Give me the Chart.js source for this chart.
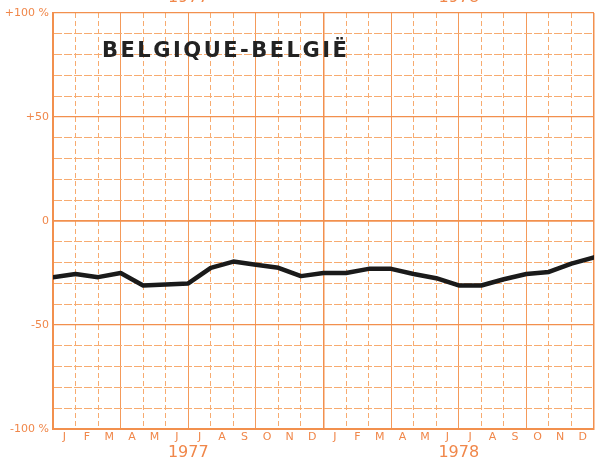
<!DOCTYPE html>
<html>
<head>
<meta charset="utf-8">
<script src="https://cdn.jsdelivr.net/npm/chart.js@4/dist/chart.umd.min.js"></script>
<style>
  html, body { margin: 0; padding: 0; background: #fff; }
  #wrap { position: relative; width: 596px; height: 470px; }
</style>
</head>
<body>
<div id="wrap"><canvas id="chart" width="596" height="470"></canvas></div>
<script>
// Month letters (one year) and the two years shown
const monthLetters = ['J', 'F', 'M', 'A', 'M', 'J', 'J', 'A', 'S', 'O', 'N', 'D'];
const years = ['1977', '1978'];

// Values read at each month boundary, Jan 1977 .. Jan 1979 (25 points, %)
const values = [-27, -25.5, -27, -25, -31, -30.5, -30, -22.5, -19.5, -21, -22.5, -26.5,
                -25, -25, -23, -23, -25.5, -27.5, -31, -31, -28, -25.5, -24.5, -20.5, -17.5];

// Y tick labels
const yTickValues = [100, 50, 0, -50, -100];
const yTickLabels = ['+100 %', '+50', '0', '-50', '-100 %'];

const panelTitle = 'BELGIQUE-BELGIË';

const orange = '#f0874a';
const gridMajor = '#f2904e';
const gridMid = '#f49a5a';
const gridMinor = '#f7ab70';

const monthAxisLabels = years.flatMap(() => monthLetters);

const titlePlugin = {
    id: 'panelTitle',
    afterDraw(chart) {
        const ctx = chart.ctx;
        ctx.save();
        ctx.font = 'bold 21px "DejaVu Sans"';
        ctx.letterSpacing = '2.5px';
        ctx.fillStyle = '#222';
        ctx.textBaseline = 'alphabetic';
        ctx.fillText(panelTitle, 102, 57);
        ctx.restore();
    }
};

new Chart(document.getElementById('chart'), {
    type: 'line',
    data: {
        datasets: [{
            data: values.map((v, i) => ({ x: i, y: v })),
            borderColor: '#1a1a1a',
            borderWidth: 4.5,
            pointRadius: 0,
            tension: 0,
            borderJoinStyle: 'round',
            borderCapStyle: 'round',
            xAxisID: 'x',
            yAxisID: 'y'
        }]
    },
    options: {
        responsive: false,
        animation: false,
        maintainAspectRatio: false,
        layout: { padding: { left: 0, right: 2, top: 0, bottom: 0 } },
        plugins: { legend: { display: false }, tooltip: { enabled: false } },
        scales: {
            x: {
                type: 'linear',
                position: 'bottom',
                min: 0,
                max: 24,
                ticks: { stepSize: 1, display: false },
                grid: {
                    drawTicks: false,
                    color: ctx => {
                        const v = ctx.tick.value;
                        if (v % 12 === 0) return gridMajor;
                        if (v % 3 === 0) return gridMid;
                        return gridMinor;
                    },
                    lineWidth: ctx => (ctx.tick.value % 12 === 0 ? 1.5 : 1)
                },
                border: {
                    color: gridMajor,
                    width: 2,
                    dash: ctx => (ctx.tick && ctx.tick.value % 3 !== 0 ? [5, 3] : [])
                },
                afterFit: s => { s.height = 0; }
            },
            months: {
                type: 'category',
                position: 'bottom',
                labels: monthAxisLabels,
                offset: true,
                grid: { display: false, drawTicks: false },
                border: { display: false },
                ticks: {
                    color: orange,
                    font: { family: 'DejaVu Sans', size: 11, lineHeight: 1 },
                    padding: 3,
                    autoSkip: false,
                    maxRotation: 0
                },
                afterFit: s => { s.height = 16; }
            },
            years: {
                type: 'category',
                position: 'bottom',
                labels: years,
                offset: true,
                grid: { display: false, drawTicks: false },
                border: { display: false },
                ticks: {
                    color: orange,
                    font: { family: 'DejaVu Sans', size: 16, lineHeight: 1 },
                    padding: 0,
                    maxRotation: 0
                },
                afterFit: s => { s.height = 25; }
            },
            yearsTop: {
                type: 'category',
                position: 'top',
                labels: years,
                offset: true,
                grid: { display: false, drawTicks: false },
                border: { display: false },
                ticks: {
                    color: orange,
                    font: { family: 'DejaVu Sans', size: 16, lineHeight: 1 },
                    padding: 7,
                    maxRotation: 0
                },
                afterFit: s => { s.height = 13; }
            },
            y: {
                type: 'linear',
                min: -100,
                max: 100,
                ticks: {
                    stepSize: 10,
                    color: orange,
                    font: { family: 'DejaVu Sans', size: 11 },
                    padding: 4,
                    callback: v => {
                        const i = yTickValues.indexOf(v);
                        return i >= 0 ? yTickLabels[i] : '';
                    }
                },
                grid: {
                    drawTicks: false,
                    color: ctx => (ctx.tick.value % 50 === 0 ? gridMajor : gridMinor),
                    lineWidth: ctx => (ctx.tick.value === 0 ? 1.8 : ctx.tick.value % 50 === 0 ? 1.3 : 1)
                },
                border: {
                    color: gridMajor,
                    width: 2,
                    dash: ctx => (ctx.tick && ctx.tick.value % 50 !== 0 ? [8, 2] : [])
                },
                afterFit: s => { s.width = 53; }
            }
        }
    },
    plugins: [titlePlugin]
});
</script>
</body>
</html>
